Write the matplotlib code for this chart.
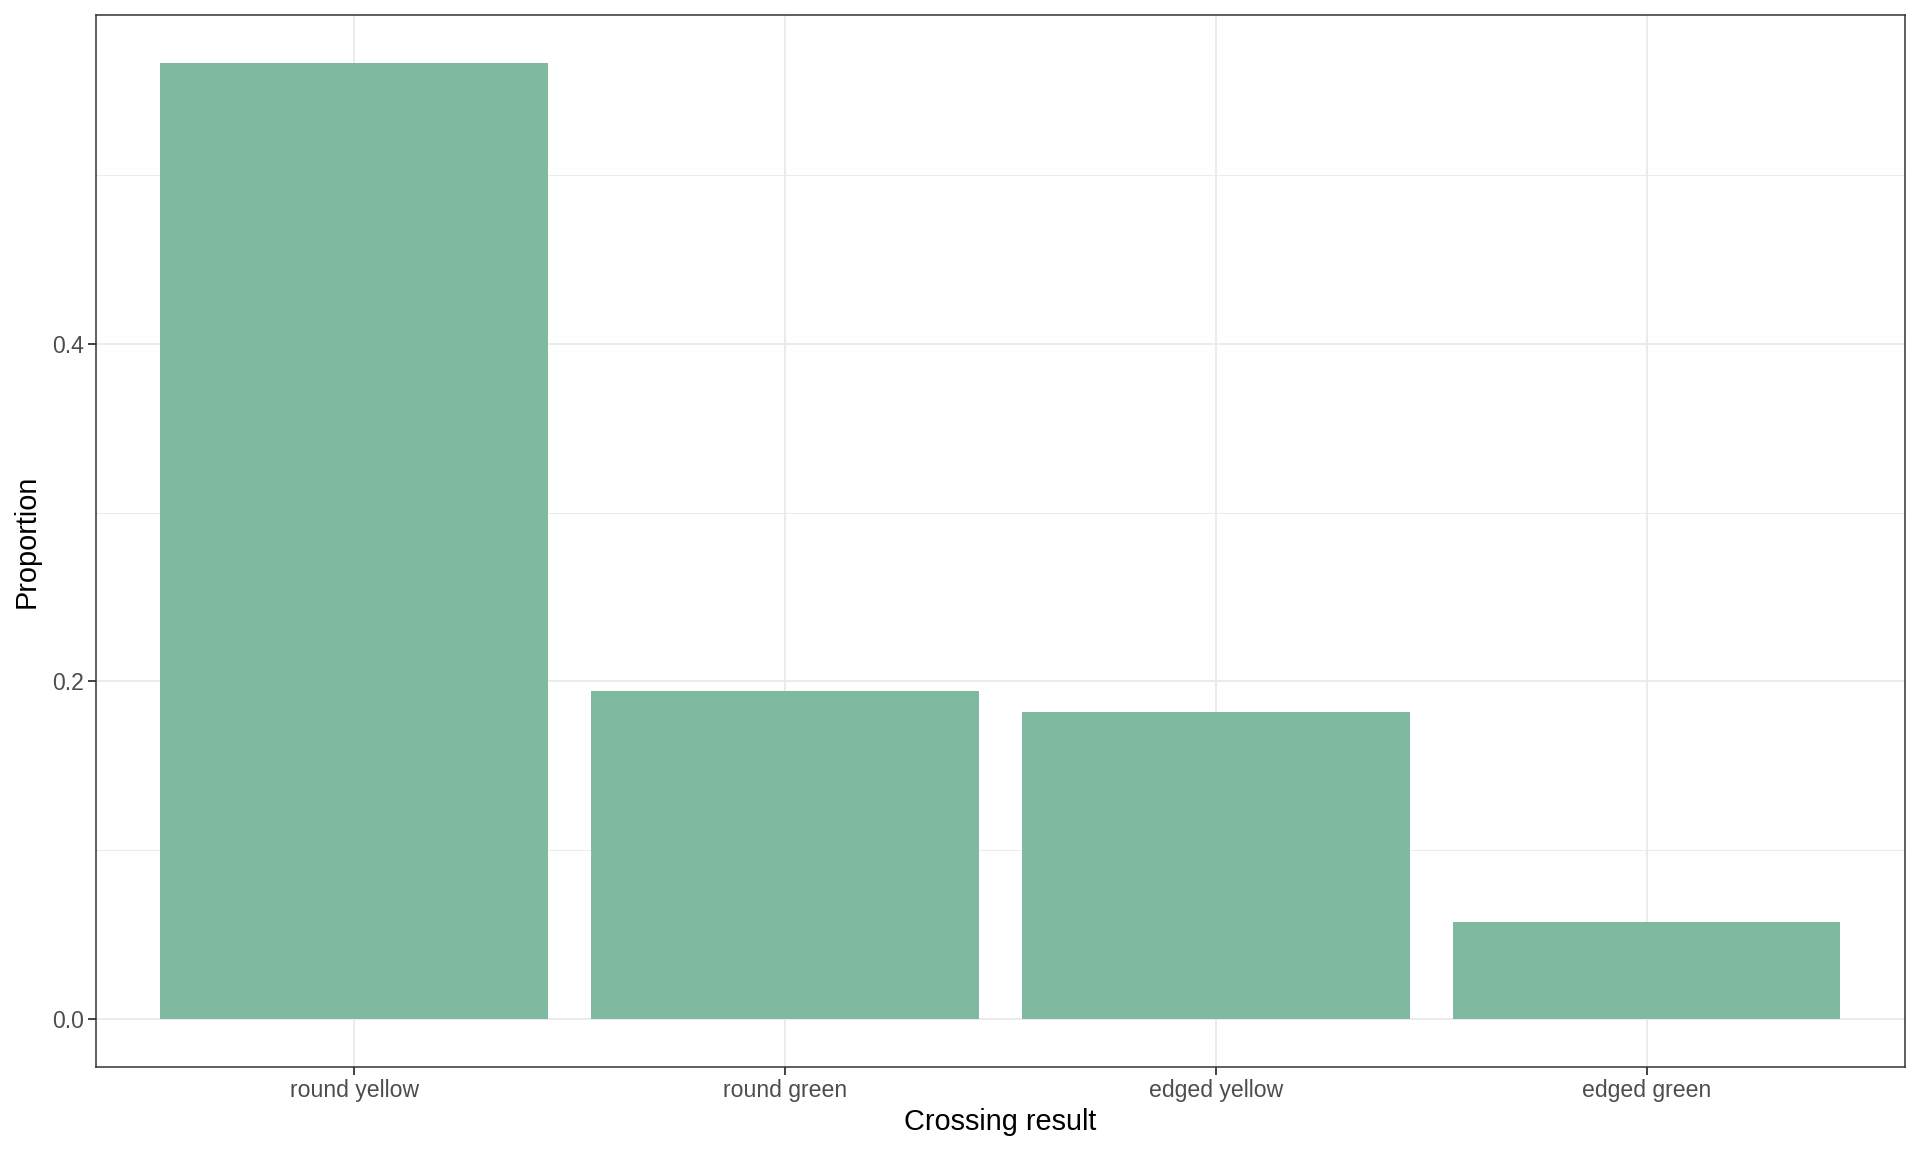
import matplotlib.pyplot as plt
from matplotlib.ticker import MultipleLocator

# Mendel's dihybrid cross counts
categories = ["round yellow", "round green", "edged yellow", "edged green"]
counts = [315, 108, 101, 32]
total = sum(counts)
proportions = [c / total for c in counts]

plt.rcParams["font.family"] = ["Liberation Sans", "DejaVu Sans"]

fig = plt.figure(figsize=(19.2, 11.52), dpi=100)
ax = fig.add_axes([95.7 / 1920, 1 - 1066.7 / 1152, (1905 - 95.7) / 1920, (1066.7 - 15) / 1152])

x = list(range(1, len(categories) + 1))
ax.bar(x, proportions, width=0.9, color="#7FB9A0", zorder=2)

ymax = max(proportions)
ax.set_ylim(-0.05 * ymax, 1.05 * ymax)
ax.set_xlim(0.4, len(categories) + 0.6)

ax.set_xticks(x)
ax.set_xticklabels(categories)
ax.yaxis.set_major_locator(MultipleLocator(0.2))
ax.yaxis.set_minor_locator(MultipleLocator(0.1))
ax.yaxis.set_major_formatter(lambda v, p: f"{v:.1f}")

ax.grid(axis="both", which="major", color="#EBEBEB", linewidth=1.4, zorder=0)
ax.grid(axis="y", which="minor", color="#EBEBEB", linewidth=0.7, zorder=0)
ax.set_axisbelow(True)

for s in ax.spines.values():
    s.set_color("#333333")
    s.set_linewidth(1.1)

ax.tick_params(axis="both", which="major", colors="#333333", length=5.5, width=1.3,
               labelsize=16.6, labelcolor="#4D4D4D", pad=3)
ax.tick_params(axis="y", which="minor", length=0)

ax.set_xlabel("Crossing result", fontsize=20.8, color="black", labelpad=5)
ax.set_ylabel("Proportion", fontsize=20.8, color="black", labelpad=8)

fig.savefig("out.png", dpi=100)
